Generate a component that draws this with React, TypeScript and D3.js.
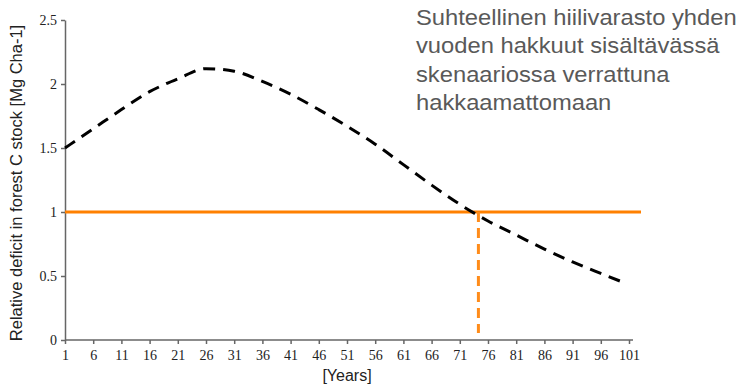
import React, { useEffect, useRef } from "react";
import * as d3 from "d3";

const years = [1, 6, 11, 16, 21, 26, 31, 36, 41, 46, 51, 56, 61, 66, 71, 76, 81, 86, 91, 96, 100];
const deficit = [1.5, 1.65, 1.8, 1.94, 2.04, 2.12, 2.1, 2.02, 1.92, 1.8, 1.67, 1.53, 1.37, 1.21, 1.06, 0.93, 0.82, 0.71, 0.61, 0.52, 0.45];
const xTicks = d3.range(1, 102, 5);
const yTicks = [0, 0.5, 1, 1.5, 2, 2.5];
const baselineValue = 1;
const crossingYear = 74.3;
const noteLines = [
  "Suhteellinen hiilivarasto yhden",
  "vuoden hakkuut sisältävässä",
  "skenaariossa verrattuna",
  "hakkaamattomaan",
];

const App = () => {
  const ref = useRef<SVGSVGElement>(null);

  useEffect(() => {
    const svg = d3.select(ref.current);
    svg.selectAll("*").remove();

    const x = d3.scaleLinear().domain([1, 101]).range([65, 629]);
    const y = d3.scaleLinear().domain([0, 2.5]).range([340, 20]);

    // axes
    const xAxis = svg.append("g")
      .attr("transform", "translate(0,340)")
      .call(d3.axisBottom(x).tickValues(xTicks).tickSize(4).tickPadding(6).tickSizeOuter(0));
    xAxis.select(".domain").attr("d", "M65,0H633");
    const yAxis = svg.append("g")
      .attr("transform", "translate(65,0)")
      .call(d3.axisLeft(y).tickValues(yTicks).tickSize(4).tickPadding(4).tickSizeOuter(0).tickFormat(d3.format("")));
    [xAxis, yAxis].forEach(g => {
      g.selectAll("path, line").attr("stroke", "#666").attr("stroke-width", 1.5);
      g.selectAll("text")
        .attr("font-family", "'Liberation Serif', 'Times New Roman', serif")
        .attr("font-size", 14)
        .attr("fill", "#222");
    });

    // orange reference line
    svg.append("line")
      .attr("x1", x(1)).attr("x2", 641)
      .attr("y1", y(baselineValue)).attr("y2", y(baselineValue))
      .attr("stroke", "#FF8000").attr("stroke-width", 3);

    svg.append("line")
      .attr("x1", x(crossingYear)).attr("x2", x(crossingYear))
      .attr("y1", y(baselineValue)).attr("y2", 333)
      .attr("stroke", "#FF8C1A").attr("stroke-width", 3)
      .attr("stroke-dasharray", "10,6");

    // black dashed curve
    const line = d3.line<number>()
      .x((_, i) => x(years[i]))
      .y(d => y(d))
      .curve(d3.curveMonotoneX);
    svg.append("path")
      .datum(deficit)
      .attr("d", line)
      .attr("fill", "none")
      .attr("stroke", "#000")
      .attr("stroke-width", 3)
      .attr("stroke-dasharray", "12,8");

    // axis titles
    svg.append("text")
      .attr("transform", "translate(22,183) rotate(-90)")
      .attr("text-anchor", "middle")
      .attr("font-family", "'Liberation Sans', Arial, sans-serif")
      .attr("font-size", 16.5)
      .attr("fill", "#222")
      .text("Relative deficit in forest C stock [Mg Cha-1]");
    svg.append("text")
      .attr("x", 347).attr("y", 381)
      .attr("text-anchor", "middle")
      .attr("font-family", "'Liberation Sans', Arial, sans-serif")
      .attr("font-size", 16)
      .attr("fill", "#222")
      .text("[Years]");

    // note
    svg.append("text")
      .attr("transform", "translate(416,0) scale(1.08,1)")
      .attr("font-family", "'Liberation Sans', Arial, sans-serif")
      .attr("font-size", 22)
      .attr("fill", "#595959")
      .selectAll("tspan")
      .data(noteLines)
      .enter()
      .append("tspan")
      .attr("x", 0)
      .attr("y", (_, i) => 25 + i * 28.3)
      .text(d => d);
  }, []);

  return (
    <div style={{ position: "absolute", left: 0, top: 0 }}>
      <svg ref={ref} width={742} height={385} style={{ display: "block", background: "#fff" }} />
    </div>
  );
};

export default App;
